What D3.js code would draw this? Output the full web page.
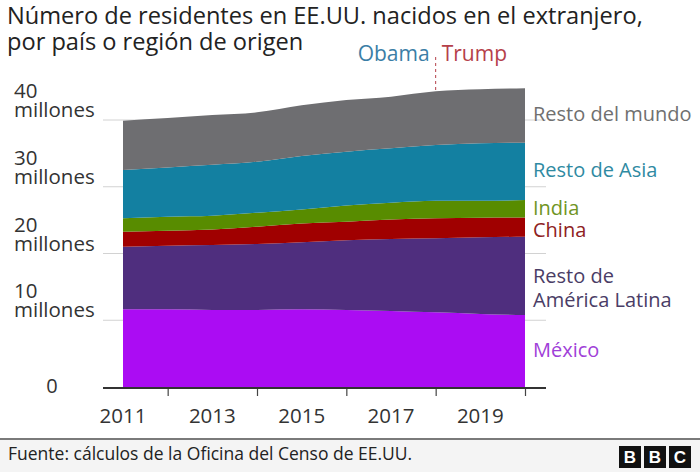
<!DOCTYPE html>
<html>
<head>
<meta charset="utf-8">
<script src="https://cdn.jsdelivr.net/npm/d3@7"></script>
<style>
  html, body { margin: 0; padding: 0; background: #ffffff; }
  svg { display: block; }
  text { font-family: "Open Sans", "Noto Sans", sans-serif; }
</style>
</head>
<body>
<svg id="chart" width="700" height="472"></svg>
<script>
// ---- Data (millions) ----
const years = [2011, 2012, 2013, 2014, 2015, 2016, 2017, 2018, 2019, 2020];
const mexico       = [11.64, 11.64, 11.54, 11.54, 11.64, 11.54, 11.39, 11.19, 10.94, 10.79];
const restoLatam   = [9.36, 9.53, 9.73, 9.88, 10.04, 10.46, 10.78, 11.09, 11.49, 11.73];
const china        = [2.27, 2.23, 2.33, 2.58, 2.82, 2.76, 2.93, 2.99, 2.93, 2.88];
const india        = [2.00, 2.10, 2.06, 2.10, 2.10, 2.44, 2.50, 2.63, 2.54, 2.60];
const restoAsia    = [7.23, 7.40, 7.64, 7.65, 8.00, 8.05, 8.15, 8.35, 8.60, 8.60];
const restoMundo   = [7.40, 7.40, 7.45, 7.40, 7.60, 7.75, 7.75, 8.05, 8.10, 8.15];

const seriesKeys   = ["mexico", "restoLatam", "china", "india", "restoAsia", "restoMundo"];
const seriesLabels = [["México"], ["Resto de", "América Latina"], ["China"], ["India"], ["Resto de Asia"], ["Resto del mundo"]];
const seriesFill   = ["#ab0cf3", "#4f2e7e", "#a00000", "#588c00", "#1380a1", "#6e6e71"];
const seriesText   = ["#a040d8", "#4a3d66", "#8e2222", "#6f9424", "#2f8aa2", "#707070"];

const yTicks      = [0, 10, 20, 30, 40];
const xTickYears  = [2012, 2014, 2016, 2018, 2020];
const xLabelYears = [2011, 2013, 2015, 2017, 2019];
const changeYear  = 2018;

// ---- Build table ----
const table = years.map((y, i) => ({
  year: y,
  mexico: mexico[i], restoLatam: restoLatam[i], china: china[i],
  india: india[i], restoAsia: restoAsia[i], restoMundo: restoMundo[i]
}));

const svg = d3.select("#chart");
const x = d3.scaleLinear().domain([2011, 2020]).range([123, 525]);
const y = d3.scaleLinear().domain([0, 40]).range([387, 120]);

// Title
const title = svg.append("text").attr("x", 8).attr("fill", "#222")
  .style("font-size", "23.6px");
title.append("tspan").attr("x", 7).attr("y", 24).text("Número de residentes en EE.UU. nacidos en el extranjero,");
title.append("tspan").attr("x", 7).attr("y", 50).text("por país o región de origen");

// Gridlines
svg.append("g").selectAll("line").data(yTicks.filter(d => d > 0)).join("line")
  .attr("x1", 103).attr("x2", 546)
  .attr("y1", d => y(d)).attr("y2", d => y(d))
  .attr("stroke", "#d2d2d2").attr("stroke-width", 1);

// Stacked areas
const stack = d3.stack().keys(seriesKeys);
const layers = stack(table);
const area = d3.area()
  .x(d => x(d.data.year))
  .y0(d => y(d[0]))
  .y1(d => y(d[1]))
  .curve(d3.curveMonotoneX);
svg.append("g").selectAll("path").data(layers).join("path")
  .attr("d", area)
  .attr("fill", (d, i) => seriesFill[i]);

// X axis
const xAxis = d3.axisBottom(x).tickValues(xTickYears).tickSize(8).tickFormat("");
const gx = svg.append("g").attr("transform", `translate(0,${y(0) + 1})`).call(xAxis);
gx.select(".domain").remove();
gx.selectAll(".tick line").attr("stroke", "#444").attr("stroke-width", 1.2);
svg.append("line").attr("x1", 103).attr("x2", 546)
  .attr("y1", y(0) + 1).attr("y2", y(0) + 1)
  .attr("stroke", "#333").attr("stroke-width", 2);
svg.append("g").selectAll("text").data(xLabelYears).join("text")
  .attr("x", d => x(d)).attr("y", 423)
  .attr("text-anchor", "middle").attr("fill", "#333")
  .style("font-size", "20.5px")
  .text(d => d);

// Y labels (number + "millones" as one two-line text)
const yl = svg.append("g");
yTicks.forEach(v => {
  if (v === 0) {
    yl.append("text").attr("x", 52).attr("y", y(0) + 6).attr("text-anchor", "middle")
      .attr("fill", "#333").style("font-size", "20px").text("0");
  } else {
    const t = yl.append("text").attr("fill", "#333").style("font-size", "20.5px");
    t.append("tspan").attr("x", 14).attr("y", y(v) - 22).text(v);
    t.append("tspan").attr("x", 14).attr("y", y(v) - 3).text("millones");
  }
});

// Obama / Trump marker
const cx = x(changeYear);
svg.append("line").attr("x1", cx).attr("x2", cx)
  .attr("y1", 57).attr("y2", y(d3.sum(seriesKeys, k => table[years.indexOf(changeYear)][k])))
  .attr("stroke", "#b5404a").attr("stroke-width", 1).attr("stroke-dasharray", "3,3");
svg.append("text").attr("x", cx - 6).attr("y", 61).attr("text-anchor", "end")
  .attr("fill", "#3b7ea6").style("font-size", "21px").text("Obama");
svg.append("text").attr("x", cx + 6).attr("y", 61).attr("text-anchor", "start")
  .attr("fill", "#b5404a").style("font-size", "21px").text("Trump");

// Right labels
const labelY = [[357], [283, 307], [237], [215], [177], [121]];
const rl = svg.append("g");
seriesLabels.forEach((lines, i) => {
  const t = rl.append("text").attr("fill", seriesText[i]).style("font-size", "20px");
  lines.forEach((s, j) => {
    t.append("tspan").attr("x", 533).attr("y", labelY[i][j]).text(s);
  });
});

// Footer
svg.append("rect").attr("x", 0).attr("y", 439).attr("width", 700).attr("height", 33).attr("fill", "#f4f4f4");
svg.append("line").attr("x1", 0).attr("x2", 700).attr("y1", 439).attr("y2", 439)
  .attr("stroke", "#7a7a7a").attr("stroke-width", 2);
svg.append("text").attr("x", 8).attr("y", 460).attr("fill", "#222")
  .style("font-size", "17.5px").text("Fuente: cálculos de la Oficina del Censo de EE.UU.");
const bbc = svg.append("g");
["B", "B", "C"].forEach((c, i) => {
  const bx = 619 + i * 25;
  bbc.append("rect").attr("x", bx).attr("y", 446).attr("width", 22).attr("height", 22).attr("fill", "#111");
  bbc.append("text").attr("x", bx + 11).attr("y", 463).attr("text-anchor", "middle")
    .attr("fill", "#fff").style("font-size", "17px").style("font-weight", "bold")
    .style("font-family", "Arial, 'Liberation Sans', sans-serif").text(c);
});
</script>
</body>
</html>
